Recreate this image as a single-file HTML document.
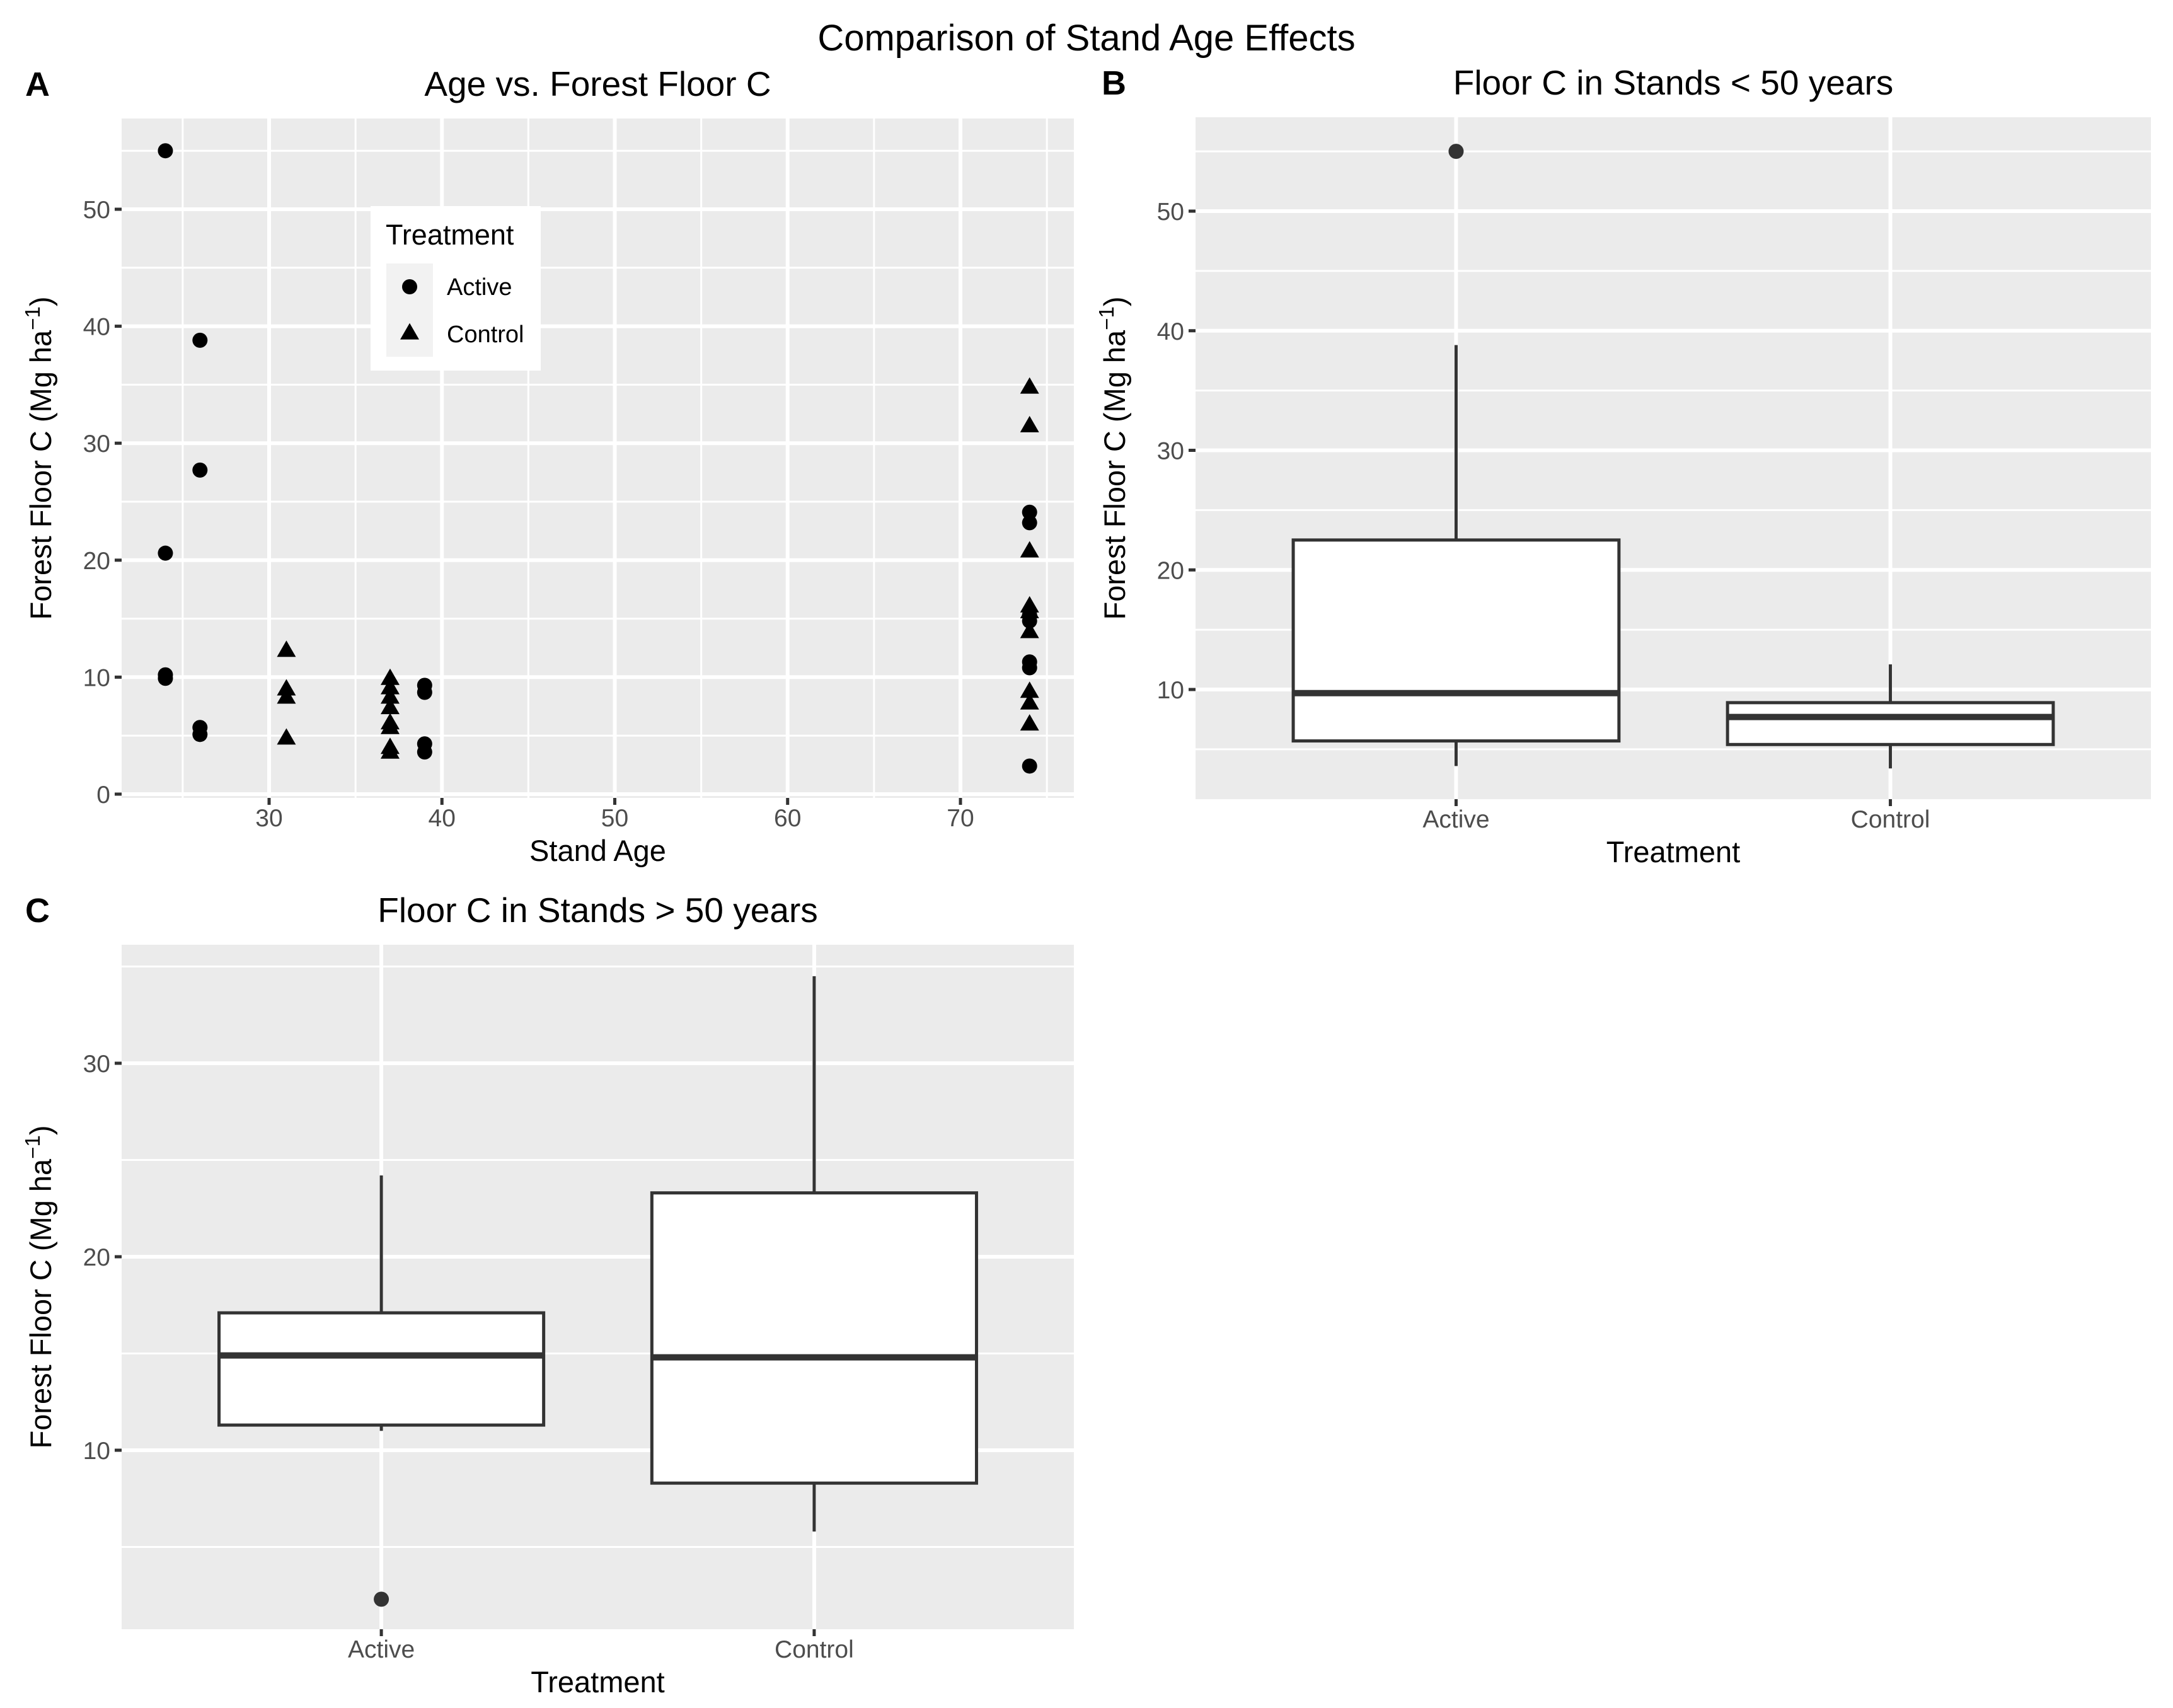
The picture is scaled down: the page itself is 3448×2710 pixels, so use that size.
<!DOCTYPE html>
<html><head><meta charset="utf-8"><title>Comparison of Stand Age Effects</title>
<style>
html,body{margin:0;padding:0;background:#fff;}
svg{display:block;font-family:"Liberation Sans",Arial,sans-serif;}
</style></head>
<body>
<svg id="fig" width="3448" height="2710" viewBox="0 0 3448 2710" xmlns="http://www.w3.org/2000/svg">
<text x="1724" y="80" font-size="58" text-anchor="middle" fill="#000">Comparison of Stand Age Effects</text>
<g id="pa"></g>
<g id="pb"></g>
<g id="pc"></g>
</svg>
<script>
// ---- Panel A data ----
const activeAge = [24,24,24,24,26,26,26,26,39,39,39,39,74,74,74,74,74,74,74];
const activeC   = [55,20.6,10.2,9.9,38.8,27.7,5.7,5.1,9.3,8.7,4.3,3.6,24.1,23.2,15.3,14.8,11.3,10.8,2.4];
const controlAge = [31,31,31,31,37,37,37,37,37,37,37,37,74,74,74,74,74,74,74,74,74];
const controlC   = [12.2,8.9,8.2,4.7,9.8,9.0,8.2,7.3,6.0,5.6,3.9,3.5,34.7,31.4,20.7,16.0,15.5,13.8,8.7,7.7,5.9];
const xTicksA = [30,40,50,60,70];
const yTicksA = [0,10,20,30,40,50];
// ---- Panel B data (stands < 50 yrs) ----
const boxCats = ["Active","Control"];
const bLow = [3.6,3.4], bQ1=[5.7,5.4], bMed=[9.7,7.7], bQ3=[22.5,8.9], bHigh=[38.8,12.1];
const bOutliers = [[55],[]];
const yTicksB = [10,20,30,40,50];
// ---- Panel C data (stands > 50 yrs) ----
const cLow = [11.0,5.8], cQ1=[11.3,8.3], cMed=[14.9,14.8], cQ3=[17.1,23.3], cHigh=[24.2,34.5];
const cOutliers = [[2.3],[]];
const yTicksC = [10,20,30];

const NS="http://www.w3.org/2000/svg";
function mk(parent,tag,attrs,text){const e=document.createElementNS(NS,tag);for(const k in attrs)e.setAttribute(k,attrs[k]);if(text!==undefined)e.textContent=text;parent.appendChild(e);return e;}
function lin(d0,d1,r0,r1){return v=>r0+(v-d0)*(r1-r0)/(d1-d0);}

function frame(g,L,T,R,B,xs,ys,xt,yt,xMinor,yMinor,title,tag,tagX,xTitle,xTickLbl){
  const bg=mk(g,'rect',{x:L,y:T,width:R-L,height:B-T,fill:'#ebebeb'});
  
  
  yMinor.forEach(v=>{const l=mk(g,'line',{x1:L,x2:R,y1:ys(v),y2:ys(v),stroke:'#fff','stroke-width':3});
    });
  xMinor.forEach(v=>{const l=mk(g,'line',{y1:T,y2:B,x1:xs(v),x2:xs(v),stroke:'#fff','stroke-width':3});
    });
  yt.forEach(v=>{const y=ys(v);
    const l=mk(g,'line',{x1:L,x2:R,y1:y,y2:y,stroke:'#fff','stroke-width':6});
    
    const t=mk(g,'line',{x1:L-11,x2:L,y1:y,y2:y,stroke:'#333','stroke-width':5});
    
    const tx=mk(g,'text',{x:L-18,y:y+14,'font-size':39,'text-anchor':'end',fill:'#4d4d4d'},String(v));
    });
  xt.forEach((v,i)=>{const x=xs(v);
    const l=mk(g,'line',{y1:T,y2:B,x1:x,x2:x,stroke:'#fff','stroke-width':6});
    
    const t=mk(g,'line',{y1:B,y2:B+11,x1:x,x2:x,stroke:'#333','stroke-width':5});
    
    const tx=mk(g,'text',{x:x,y:B+45,'font-size':39,'text-anchor':'middle',fill:'#4d4d4d'},xTickLbl?xTickLbl[i]:String(v));
    });
  const tt=mk(g,'text',{x:(L+R)/2,y:T-36,'font-size':55,'text-anchor':'middle',fill:'#000'},title);
  
  const tg=mk(g,'text',{x:tagX,y:T-36,'font-size':54,'font-weight':'bold',fill:'#000'},tag);
  
  const xtt=mk(g,'text',{x:(L+R)/2,y:B+100,'font-size':47,'text-anchor':'middle',fill:'#000'},xTitle);
  
  const yx=L-112, yc=(T+B)/2;
  const yttl=mk(g,'text',{x:yx,y:yc,'font-size':47,'text-anchor':'middle',fill:'#000',transform:`rotate(-90 ${yx} ${yc})`});
  
  mk(yttl,'tspan',{},'Forest Floor C (Mg ha');
  mk(yttl,'tspan',{dy:-18,'font-size':33},'\u22121');
  mk(yttl,'tspan',{dy:18},')');
}

function tri(g,cx,cy,s){const h=s*0.866;
  return mk(g,'polygon',{points:`${cx},${cy-h*2/3} ${cx-s/2},${cy+h/3} ${cx+s/2},${cy+h/3}`,fill:'#000'});}

// ---- Panel A ----
(function(){
  const g=document.getElementById('pa');
  const L=193,R=1704,T=188,B=1266;
  const xs=lin(30,70,427,1524), ys=lin(0,50,1260,332);
  frame(g,L,T,R,B,xs,ys,xTicksA,yTicksA,[25,35,45,55,65,75],[5,15,25,35,45,55],'Age vs. Forest Floor C','A',40,'Stand Age');
  activeAge.forEach((a,i)=>{const c=mk(g,'circle',{cx:xs(a),cy:ys(activeC[i]),r:12,fill:'#000'});
    });
  controlAge.forEach((a,i)=>{const p=tri(g,xs(a),ys(controlC[i]),30);
    });
  const lg=mk(g,'g',{});
  
  mk(lg,'rect',{x:588,y:327,width:270,height:261,fill:'#fff'});
  const lt=mk(lg,'text',{x:612,y:388,'font-size':45,fill:'#000'},'Treatment');
  
  mk(lg,'rect',{x:613,y:418,width:74,height:148,fill:'#f2f2f2'});
  const e1=mk(lg,'g',{});
  mk(e1,'circle',{cx:650,cy:455,r:12,fill:'#000'});
  mk(e1,'text',{x:709,y:468,'font-size':38,fill:'#000'},'Active');
  const e2=mk(lg,'g',{});
  tri(e2,650,530,30);
  mk(e2,'text',{x:709,y:543,'font-size':38,fill:'#000'},'Control');
})();

function boxPanel(g,L,R,T,B,ys,low,q1,med,q3,high,outs,yt,yMinor,title,tag,tagX){
  const n=boxCats.length, step=(R-L)/(n+0.2);
  const xc=i=>L+step*(0.6+i);
  const xi=boxCats.map((c,i)=>i);
  frame(g,L,T,R,B,xc,ys,xi,yt,[],yMinor,title,tag,tagX,'Treatment',boxCats);
  const hw=step*0.375;
  boxCats.forEach((c,i)=>{const x=xc(i);
    const bx=mk(g,'g',{});
    mk(bx,'line',{x1:x,x2:x,y1:ys(high[i]),y2:ys(q3[i]),stroke:'#333','stroke-width':5});
    mk(bx,'line',{x1:x,x2:x,y1:ys(q1[i]),y2:ys(low[i]),stroke:'#333','stroke-width':5});
    mk(bx,'rect',{x:x-hw,y:ys(q3[i]),width:2*hw,height:ys(q1[i])-ys(q3[i]),fill:'#fff',stroke:'#333','stroke-width':5});
    mk(bx,'line',{x1:x-hw,x2:x+hw,y1:ys(med[i]),y2:ys(med[i]),stroke:'#333','stroke-width':10});
    outs[i].forEach(v=>{const o=mk(g,'circle',{cx:x,cy:ys(v),r:12,fill:'#333'});
      });
  });
}
// ---- Panel B ----
boxPanel(document.getElementById('pb'),1897,3413,186,1268,lin(10,50,1094,335),
  bLow,bQ1,bMed,bQ3,bHigh,bOutliers,yTicksB,[5,15,25,35,45,55],'Floor C in Stands < 50 years','B',1748);
// ---- Panel C ----
boxPanel(document.getElementById('pc'),193,1704,1499,2585,lin(10,30,2301,1687),
  cLow,cQ1,cMed,cQ3,cHigh,cOutliers,yTicksC,[5,15,25,35],'Floor C in Stands > 50 years','C',40);
</script>
</body></html>
